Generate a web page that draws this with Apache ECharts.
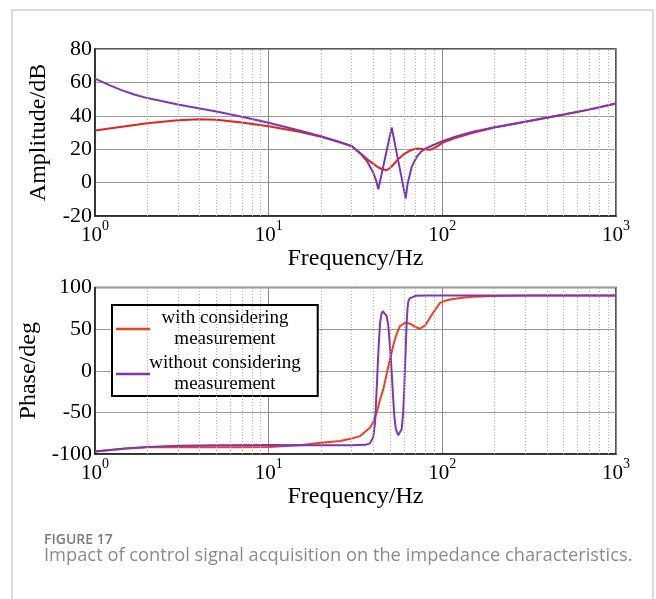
<!DOCTYPE html>
<html><head><meta charset="utf-8">
<script src="https://cdn.jsdelivr.net/npm/echarts@6/dist/echarts.min.js"></script>
<style>html,body{margin:0;padding:0;background:#fff;}#c{width:656px;height:599px;}</style>
</head><body><div id="c"></div>
<script>
// ---- data ----
const seriesNames = ['with considering\nmeasurement', 'without considering\nmeasurement'];
const xTickValues = [1, 10, 100, 1000];
const minorFreqs = [2,3,4,5,6,7,8,9,20,30,40,50,60,70,80,90,200,300,400,500,600,700,800,900];
const ampTicks = [-20, 0, 20, 40, 60, 80];
const phaseTicks = [-100, -50, 0, 50, 100];

const ampRedFreq = [1,1.5,2,3,4,5,7,10,15,20,25,30,34,38,42,45,47.8,51,55,60,66,72,78,85,92,100,120,150,200,300,500,700,1000];
const ampRed     = [31.2,33.8,35.6,37.4,38,37.7,36,33.8,30.5,27.4,24.6,21.8,17.3,13,9.6,8,7.4,9.5,13.5,17,19.5,20.4,20,19.6,21.2,23.8,26.9,29.9,33,36.4,40.8,43.7,47.4];

const ampPurpleFreq = [1,1.2,1.42,1.7,2,3,5,7,10,15,20,25,30,34,37,40,41.5,42.8,45,48,51.1,55,58,61.5,63,66.6,71,75,80,90,100,120,150,200,300,500,700,1000];
const ampPurple     = [62.3,58.5,55.4,52.6,50.6,46.8,42.6,39.4,35.8,31.2,27.8,24.6,22,17,12.5,6,1.5,-4,6.5,20,33,16,4,-9.6,-1,9.4,15.2,18.3,20.3,22.8,24.8,27.6,30.4,33.2,36.5,40.8,43.7,47.4];

const phRedFreq = [1,1.5,2,3,5,7,10,15,20,25.8,30,33.6,38.3,40,41.9,44,45.7,48,49.9,52,53.3,55,57,60,62.4,66,70,74.3,80,84.9,90,97,105,110.7,130,150.8,200,300,1000];
const phRed     = [-97,-93.5,-92,-91.5,-92,-92,-91.5,-89.5,-86.5,-84.5,-81.5,-78.5,-68.4,-62,-50,-33,-22.4,-2,13.6,29,37.6,46,53.5,56.8,57.6,56,52.5,50.4,55,63.6,72,81.6,84.5,85.6,87.8,88.8,89.8,90.3,90.5];

const phPurpleFreq = [1,1.5,2,3,5,10,20,30,36,38.3,40,41,41.7,42.3,43,43.8,44.6,45.4,46.5,47.8,48.8,49.6,50.4,51.1,52,52.9,54,55.7,57,58.3,59.5,60.3,60.8,61.5,62.3,63,63.7,65,66.6,70,80,100,200,1000];
const phPurple     = [-97,-93.5,-91.5,-90,-89.5,-89.3,-89.5,-89.5,-89,-87.2,-80,-62,-30,-2,30,57.6,68,71.5,71,65.5,55,37.6,18,-2,-30,-54.4,-70,-77.6,-77,-70.4,-50,-25,-2,25,57.6,74,83.5,87,88.8,90,90.5,90.5,90.5,90.5];

// ---- build ----
const pairs = (xs, ys) => xs.map((x, i) => [x, ys[i]]);
const serif = 'Liberation Serif';
const RED_TOP = '#e5231b';
const RED_BOT = '#f2401c';
const PURPLE = '#7f36b4';

function xAxisCfg(gi) {
  return {
    type: 'log', logBase: 10, min: 1, max: 1000, gridIndex: gi,
    name: 'Frequency/Hz', nameLocation: 'middle', nameGap: 27,
    nameTextStyle: {fontFamily: serif, fontSize: 24, color: '#000'},
    axisLine: {show: true, onZero: false, lineStyle: {color: '#222', width: 1.5}},
    axisTick: {show: false},
    splitLine: {show: true, lineStyle: {color: '#8a8a8a', width: 1}},
    axisLabel: {
      margin: 3,
      formatter: v => '{b|10}{s|' + Math.round(Math.log10(v)) + '}',
      rich: {
        b: {fontFamily: serif, fontSize: 21, color: '#000', padding: [6, 0, 0, 0]},
        s: {fontFamily: serif, fontSize: 14, color: '#000', verticalAlign: 'top'}
      }
    }
  };
}
function yAxisCfg(gi, name, ticks) {
  return {
    type: 'value', gridIndex: gi, min: ticks[0], max: ticks[ticks.length - 1],
    interval: ticks[1] - ticks[0],
    name: name, nameLocation: 'middle', nameGap: 44,
    nameTextStyle: {fontFamily: serif, fontSize: 24, color: '#000'},
    axisLine: {show: true, onZero: false, lineStyle: {color: '#222', width: 1.5}},
    axisTick: {show: false},
    splitLine: {show: true, lineStyle: {color: '#9a9a9a', width: 1}},
    axisLabel: {margin: 3, fontFamily: serif, fontSize: 22, color: '#000'}
  };
}
const minorMark = {
  silent: true, symbol: 'none', animation: false,
  label: {show: false},
  lineStyle: {type: [1, 2], color: '#b0b0b0', width: 1},
  data: minorFreqs.map(v => ({xAxis: v}))
};

const legendRich = {t: {width: 140, align: 'center', fontFamily: serif, fontSize: 19, lineHeight: 21, color: '#000'}};

const option = {
  animation: false,
  backgroundColor: '#fff',
  grid: [
    {left: 95, top: 49, width: 521, height: 167, show: true, borderColor: '#222', borderWidth: 1.5, backgroundColor: 'transparent'},
    {left: 95, top: 287.5, width: 521, height: 166.5, show: true, borderColor: '#222', borderWidth: 1.5, backgroundColor: 'transparent'}
  ],
  xAxis: [xAxisCfg(0), xAxisCfg(1)],
  yAxis: [yAxisCfg(0, 'Amplitude/dB', ampTicks), yAxisCfg(1, 'Phase/deg', phaseTicks)],
  legend: {
    left: 112, top: 305, orient: 'vertical',
    data: seriesNames,
    icon: 'rect',
    itemWidth: 34, itemHeight: 2.5, itemGap: 5,
    padding: [4, 17, 2, 4],
    borderColor: '#000', borderWidth: 2, backgroundColor: '#fff',
    formatter: n => n.split('\n').map(s => '{t|' + s + '}').join('\n'),
    textStyle: {rich: legendRich}
  },
  graphic: [
    {type: 'rect', shape: {x: 12, y: 10, width: 641, height: 640}, style: {fill: 'none', stroke: '#cfcfcf', lineWidth: 1.5}, silent: true, z: -10},
    {type: 'text', left: 44, top: 533, style: {text: 'FIGURE 17', font: '600 14px "Open Sans"', fill: '#7a7a7a'}},
    {type: 'text', left: 44, top: 547, style: {text: 'Impact of control signal acquisition on the impedance characteristics.', font: '18.3px "Open Sans"', fill: '#8a8a8a'}}
  ],
  series: [
    {name: seriesNames[0], type: 'line', xAxisIndex: 0, yAxisIndex: 0, data: pairs(ampRedFreq, ampRed), showSymbol: false, symbol: 'none', lineStyle: {color: RED_TOP, width: 2}, itemStyle: {color: RED_BOT}, markLine: minorMark, z: 3},
    {name: seriesNames[1], type: 'line', xAxisIndex: 0, yAxisIndex: 0, data: pairs(ampPurpleFreq, ampPurple), showSymbol: false, symbol: 'none', lineStyle: {color: PURPLE, width: 2}, itemStyle: {color: PURPLE}, z: 4},
    {name: seriesNames[0], type: 'line', xAxisIndex: 1, yAxisIndex: 1, data: pairs(phRedFreq, phRed), showSymbol: false, symbol: 'none', lineStyle: {color: RED_BOT, width: 2}, itemStyle: {color: RED_BOT}, markLine: minorMark, z: 3},
    {name: seriesNames[1], type: 'line', xAxisIndex: 1, yAxisIndex: 1, data: pairs(phPurpleFreq, phPurple), showSymbol: false, symbol: 'none', lineStyle: {color: PURPLE, width: 2}, itemStyle: {color: PURPLE}, z: 4}
  ]
};
const chart = echarts.init(document.getElementById('c'), null, {renderer: 'canvas'});
chart.setOption(option);
</script></body></html>
